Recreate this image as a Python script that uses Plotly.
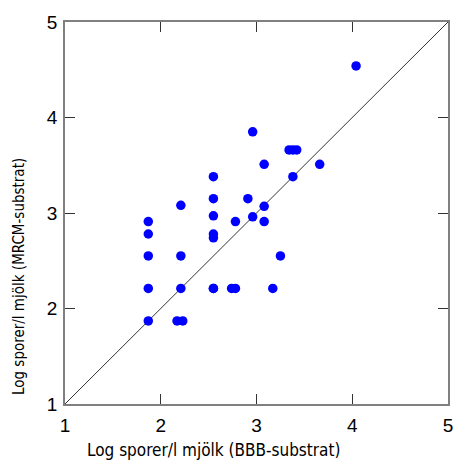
import plotly.graph_objects as go

# Data: Log spores/l milk, BBB-substrate (x) vs MRCM-substrate (y)
bbb = [1.87, 1.87, 1.87, 1.87, 1.87,
       2.21, 2.21, 2.21, 2.17, 2.23,
       2.55, 2.55, 2.55, 2.55, 2.55, 2.55, 2.55,
       2.96, 3.34, 3.38, 3.42, 3.08, 3.66, 3.38,
       2.91, 3.08, 2.78, 2.96, 3.08, 3.25,
       2.74, 2.78, 3.17, 4.04]
mrcm = [2.91, 2.78, 2.55, 2.21, 1.87,
        3.08, 2.55, 2.21, 1.87, 1.87,
        3.38, 3.15, 2.97, 2.78, 2.74, 2.21, 2.21,
        3.85, 3.66, 3.66, 3.66, 3.51, 3.51, 3.38,
        3.15, 3.07, 2.91, 2.96, 2.91, 2.55,
        2.21, 2.21, 2.21, 4.54]
line_pts = [1, 5]
ticks = [1, 2, 3, 4, 5]
x_title = "Log sporer/l mjölk (BBB-substrat)"
y_title = "Log sporer/l mjölk (MRCM-substrat)"

fig = go.Figure()
fig.add_trace(go.Scatter(x=line_pts, y=line_pts, mode="lines",
                         line=dict(color="#333333", width=1), showlegend=False,
                         hoverinfo="skip"))
fig.add_trace(go.Scatter(x=bbb, y=mrcm, mode="markers",
                         marker=dict(color="#0000FF", size=9.5, line=dict(width=0)),
                         showlegend=False))

axis_common = dict(range=[1, 5], tickvals=ticks, ticks="inside", ticklen=10,
                   tickcolor="#333333", showline=True, linecolor="#808080",
                   linewidth=1.5, mirror="ticks", showgrid=False, zeroline=False,
                   automargin=False,
                   tickfont=dict(family="Liberation Sans, Arial", size=19, color="black"))
fig.update_xaxes(ticklabelstandoff=3, **axis_common)
fig.update_yaxes(ticklabelstandoff=2, **axis_common)

cond = "DejaVu Sans Condensed, Liberation Sans Narrow, Liberation Sans"
fig.add_annotation(text=x_title, xref="paper", yref="paper", x=(213 - 65) / 383, y=0,
                   yshift=-58, showarrow=False,
                   font=dict(family=cond, size=17, color="black"), xanchor="center")
fig.add_annotation(text=y_title, xref="paper", yref="paper", x=0, y=(404 - 277) / 382,
                   xshift=-57, showarrow=False,
                   font=dict(family=cond, size=15, color="black"), textangle=-90,
                   yanchor="middle")

fig.update_layout(width=455, height=464, margin=dict(l=65, r=7, t=22, b=60),
                  plot_bgcolor="white", paper_bgcolor="white")
fig.write_html("out.html")
